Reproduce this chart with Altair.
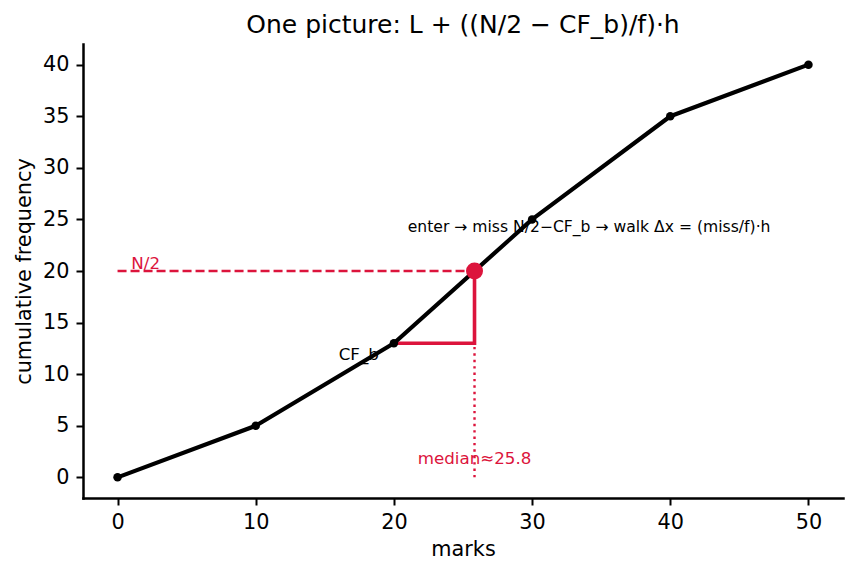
import altair as alt
import pandas as pd

# Ogive: upper class boundaries and cumulative frequencies
marks = [0, 10, 20, 30, 40, 50]
cum_freq = [0, 5, 13, 25, 35, 40]

x_ticks = [0, 10, 20, 30, 40, 50]
y_ticks = [0, 5, 10, 15, 20, 25, 30, 35, 40]

# Median class 20-30
L = 20          # lower boundary of the median class
h = 10          # class width
N = 40          # total frequency
cf_b = 13       # cumulative frequency before the median class
f = 12          # frequency of the median class
half_n = N / 2
median = L + (half_n - cf_b) / f * h

RED = "#DC143C"
FONT = "DejaVu Sans"

ogive = pd.DataFrame({"x": marks, "y": cum_freq})
half_line = pd.DataFrame({"x": [0], "x2": [median], "y": [half_n]})
walk = pd.DataFrame({"x": [L, median, median], "y": [cf_b, cf_b, half_n], "step": [0, 1, 2]})
drop = pd.DataFrame({"x": [median], "y": [0], "y2": [half_n]})
hit = pd.DataFrame({"x": [median], "y": [half_n]})

x_scale = alt.Scale(domain=[-2.5, 52.5], nice=False, zero=False)
y_scale = alt.Scale(domain=[-2, 42], nice=False, zero=False)


def X(field="x"):
    return alt.X(f"{field}:Q", scale=x_scale, title="marks",
                 axis=alt.Axis(values=x_ticks, format="d"))


def Y(field="y"):
    return alt.Y(f"{field}:Q", scale=y_scale, title="cumulative frequency",
                 axis=alt.Axis(values=y_ticks, format="d"))


def label(text, x, y, color, size, align="left"):
    df = pd.DataFrame({"x": [x], "y": [y], "t": [text]})
    return alt.Chart(df).mark_text(
        align=align, baseline="alphabetic", font=FONT, fontSize=size, color=color
    ).encode(x=X(), y=Y(), text="t:N")


texts = [
    label("N/2", 1.0, 20.15, RED, 16.7),
    label("CF_b", 16.0, 11.36, "black", 16.7),
    label(f"median\u2248{median:.1f}", median, 1.26, RED, 16.7, align="center"),
    label("enter \u2192 miss N/2\u2212CF_b \u2192 walk \u0394x = (miss/f)\u00b7h",
          21.0, 23.8, "black", 15.6),
]

half_rule = alt.Chart(half_line).mark_rule(
    color=RED, strokeWidth=2.4, strokeDash=[9, 4]
).encode(x=X(), x2="x2:Q", y=Y())

drop_rule = alt.Chart(drop).mark_rule(
    color=RED, strokeWidth=2.4, strokeDash=[2.4, 4]
).encode(x=X(), y=Y(), y2="y2:Q")

walk_line = alt.Chart(walk).mark_line(
    color=RED, strokeWidth=3.6, strokeJoin="miter"
).encode(x=X(), y=Y(), order="step:Q")

ogive_line = alt.Chart(ogive).mark_line(
    color="black", strokeWidth=4.2, strokeJoin="round", strokeCap="round"
).encode(x=X(), y=Y())

ogive_pts = alt.Chart(ogive).mark_circle(
    color="black", size=72, opacity=1
).encode(x=X(), y=Y())

hit_pt = alt.Chart(hit).mark_circle(
    color=RED, size=290, opacity=1
).encode(x=X(), y=Y())

chart = alt.layer(
    *texts, half_rule, drop_rule, walk_line, ogive_line, ogive_pts, hit_pt
).properties(
    width=760,
    height=454,
    padding={"left": 83, "top": 44, "right": 13, "bottom": 75},
    autosize=alt.AutoSizeParams(type="none"),
    background="white",
    title=alt.TitleParams(
        "One picture: L + ((N/2 \u2212 CF_b)/f)\u00b7h",
        font=FONT, fontSize=25, fontWeight="normal", color="black",
        anchor="middle", offset=6,
    ),
).configure_view(
    stroke=None
).configure_axis(
    grid=False,
    domainColor="black", domainWidth=2.5, domainCap="square",
    tickColor="black", tickWidth=2, tickSize=7,
    labelFont=FONT, labelFontSize=20.8, labelColor="black", labelPadding=7,
    titleFont=FONT, titleFontSize=20.8, titleColor="black",
    titleFontWeight="normal", titlePadding=8,
)

chart.save("out.html", embed_options={"renderer": "svg", "actions": False})
